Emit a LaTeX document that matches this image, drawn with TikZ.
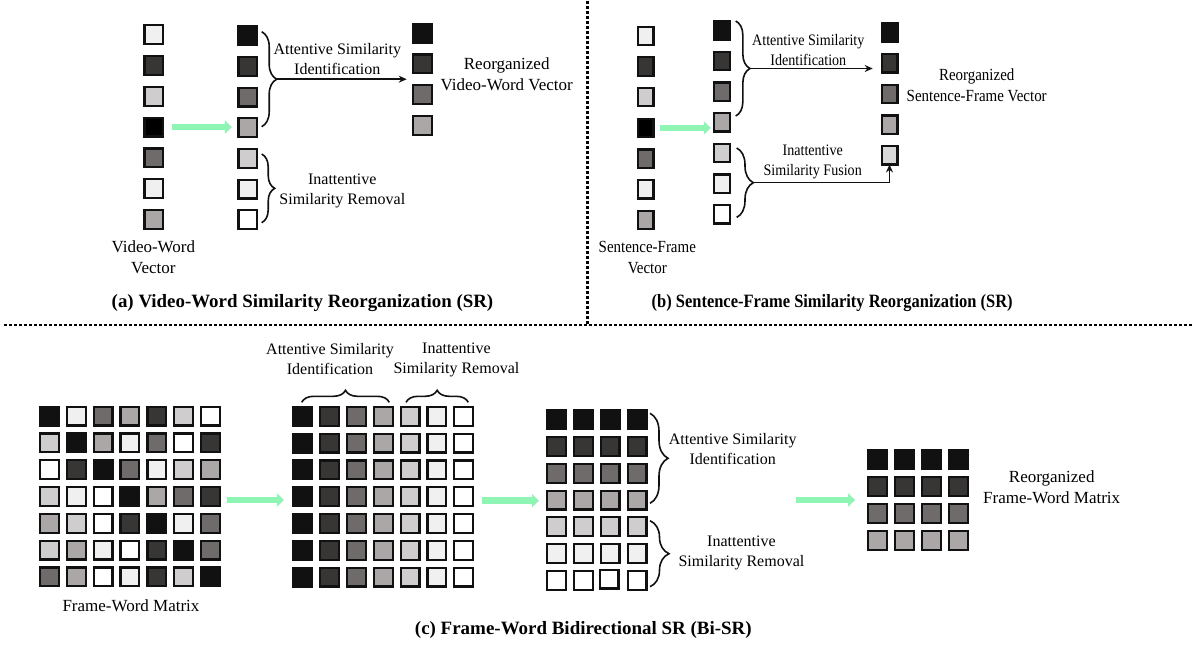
\documentclass[tikz,border=0pt]{standalone}
\usepackage{fontspec}
\usepackage{graphicx}
\setmainfont{Liberation Serif}
\newfontfamily\squeezed[FakeStretch=0.88]{Liberation Serif}
\usetikzlibrary{arrows.meta,decorations.pathreplacing}

% grey levels of the similarity cells
\definecolor{g0}{HTML}{000000}
\definecolor{g1}{HTML}{111111}
\definecolor{g2}{HTML}{383634}
\definecolor{g3}{HTML}{6F6B6B}
\definecolor{g4}{HTML}{ABA7A7}
\definecolor{g5}{HTML}{CFCDCD}
\definecolor{g6}{HTML}{F0F0F0}
\definecolor{g7}{HTML}{FFFFFF}
\definecolor{gf}{HTML}{D8D8D8}
\definecolor{mint}{HTML}{8FF5B4}
\definecolor{ink}{HTML}{111111}

% caption set to a fixed width, natural height
\newcommand{\fitcaption}[2]{\resizebox{#1}{\height}{\bfseries\fontsize{18.8}{22}\selectfont #2}}

\tikzset{
  cell/.style={draw=ink, line width=2.2pt, minimum size=18.8pt, inner sep=0pt, outer sep=0pt},
  cellb/.style={cell, minimum width=15.8pt, minimum height=18.3pt},
  flow/.style={draw=mint, line width=6.5pt, -{Triangle[length=7pt,width=13pt]}},
  link/.style={draw=ink, line width=1.5pt, -{Stealth[length=8pt,width=7pt]}},
  curly/.style={draw=ink, line width=1.6pt, decorate, decoration={brace, amplitude=#1}},
  lbl/.style={align=center, inner sep=0pt, font=\fontsize{16}{20}\selectfont},
  lblb/.style={align=center, inner sep=0pt, font=\squeezed\fontsize{16}{20}\selectfont},
  capt/.style={align=center, inner sep=0pt, font=\fontsize{17}{21}\selectfont},
  captb/.style={align=center, inner sep=0pt, font=\squeezed\fontsize{17}{21}\selectfont},
  ttl/.style={inner sep=0pt},
  sep/.style={draw=black, line width=2.5pt, dash pattern=on 2.5pt off 2.5pt},
}

\begin{document}
\begin{tikzpicture}[x=1pt, y=-1pt]
\useasboundingbox (0,0) rectangle (1194,648);

% panel separators
\draw[sep] (4,325) -- (1194,325);
\draw[sep] (587.7,1) -- (587.7,325);

% ---------------- (a) video-word vector ----------------
\foreach \c [count=\i] in {g6,g2,g5,g0,g3,g6,g4}
  \node[cell, fill=\c] (av\i) at (153.8,{34.7+30.8*(\i-1)}) {};
\foreach \c [count=\i] in {g1,g2,g3,g4,g5,g6,g7}
  \node[cell, fill=\c] (as\i) at (247.8,{35.7+30.67*(\i-1)}) {};
\foreach \c [count=\i] in {g1,g2,g3,g4}
  \node[cell, fill=\c] (ar\i) at (422.3,{33+30.8*(\i-1)}) {};

\draw[flow] ([xshift=9pt]av4.east) -- ([xshift=-6.5pt]as4.west |- av4.east);

\draw[curly=15pt] (261.7,31.7) -- (261.7,126.7);
\coordinate (atip) at (276.7,79.2);
\coordinate (aend) at (406.7,79.2);
\draw[link] (atip) -- (aend);
\draw[curly=13pt] (261.7,154) -- (261.7,222.7);

\node[lbl] (at1) at (337.3,58.8) {Attentive Similarity\\Identification};
\node[lbl] (at2) at (342.3,191) {Inattentive\\Similarity Removal};
\node[capt] (at3) at (506.7,74.3) {Reorganized\\Video-Word Vector};
\node[capt] (at4) at (153.3,257.5) {Video-Word\\Vector};
\node[ttl] (att) at (302.5,303) {\fitcaption{381.5pt}{(a) Video-Word Similarity Reorganization (SR)}};

% ---------------- (b) sentence-frame vector ----------------
\foreach \c [count=\i] in {g6,g2,g5,g0,g3,g6,g4}
  \node[cellb, fill=\c] (bv\i) at (645.5,{35.8+30.7*(\i-1)}) {};
\foreach \c [count=\i] in {g1,g2,g3,g4,g5,g6,g7}
  \node[cellb, fill=\c] (bs\i) at (722,{30.3+30.67*(\i-1)}) {};
\foreach \c [count=\i] in {g1,g2,g3,g4,gf}
  \node[cellb, fill=\c] (br\i) at (889.5,{32.7+30.65*(\i-1)}) {};

\draw[flow] ([xshift=6.4pt]bv4.east) -- ([xshift=-3.3pt]bs4.west |- bv4.east);

\draw[curly=14.3pt] (735.7,21) -- (735.7,116);
\coordinate (btip) at (750,68.5);
\coordinate (bend) at (872.7,68.5);
\draw[link] (btip) -- (bend);
\draw[curly=16.6pt] (736.7,148) -- (736.7,217.4);
\coordinate (btip2) at (753.3,182.7);
\draw[link] (btip2) -| (br5.south);

\node[lblb] (bt1) at (808.3,50.2) {Attentive Similarity\\Identification};
\node[lblb] (bt2) at (812.7,162.2) {Inattentive\\Similarity Fusion};
\node[captb] (bt3) at (976.7,85.3) {Reorganized\\Sentence-Frame Vector};
\node[captb] (bt4) at (647.3,257.5) {Sentence-Frame\\Vector};
\node[ttl] (btt) at (832.2,303) {\fitcaption{361pt}{(b) Sentence-Frame Similarity Reorganization (SR)}};

% ---------------- (c) frame-word matrix ----------------
% unsorted matrix
\foreach \row [count=\i from 0] in {{1,6,3,4,2,5,7},{5,1,4,6,3,7,2},{7,2,1,3,6,5,4},{5,6,7,1,4,3,2},{4,5,7,2,1,6,3},{5,4,6,7,2,1,3},{3,4,7,6,2,5,1}}
  \foreach \v [count=\j from 0] in \row
    \node[cell, fill=g\v] (m1-\i-\j) at ({49.5+26.83*\j},{416+26.83*\i}) {};

% columns sorted by similarity
\foreach \i in {0,...,6}
  \foreach \j/\c in {0/g1,1/g2,2/g3,3/g4,4/g5,5/g6,6/g7}
    \node[cell, fill=\c] (m2-\i-\j) at ({302.8+26.82*\j},{416.3+26.8*\i}) {};

% rows sorted after column reduction
\foreach \i/\c in {0/g1,1/g2,2/g3,3/g4,4/g5,5/g6,6/g7}
  \foreach \j in {0,1,3}
    \node[cell, fill=\c] (m3-\i-\j) at ({556.3+26.9*\j},{419.7+26.77*\i}) {};
\foreach \i/\c in {0/g1,1/g2,2/g3,3/g4,4/g5,5/g6}
  \node[cell, fill=\c] (m3-\i-2) at ({556.3+26.9*2},{419.7+26.77*\i}) {};
\node[cell, fill=g7] (m3-6-2) at (609.1,579) {};

% reorganized result
\foreach \i/\c in {0/g1,1/g2,2/g3,3/g4}
  \foreach \j in {0,...,3}
    \node[cell, fill=\c] (m4-\i-\j) at ({877.5+27.07*\j},{459.7+26.87*\i}) {};

\coordinate (c1s) at (226.7,500);
\coordinate (c1e) at (284,500);
\draw[flow] (c1s) -- (c1e);
\coordinate (c2s) at (481.7,500.7);
\coordinate (c2e) at (539,500.7);
\draw[flow] (c2s) -- (c2e);
\coordinate (c3s) at (796,500);
\draw[flow] (c3s) -- ([xshift=-13pt]m4-0-0.west |- c3s);

\draw[curly=12pt] (301.7,402.3) -- (389.3,402.3);
\draw[curly=12pt] (406,402.3) -- (468.3,402.3);
\draw[curly=18pt] (650,413.3) -- (650,503.3);
\draw[curly=19pt] (650,520.7) -- (650,586.7);

\node[lbl] (ct1) at (330,359.5) {Attentive Similarity\\Identification};
\node[lbl] (ct2) at (456.4,359.5) {Inattentive\\Similarity Removal};
\node[capt] (ct3) at (131,606) {Frame-Word Matrix};
\node[lbl] (ct4) at (732.7,449.5) {Attentive Similarity\\Identification};
\node[lbl] (ct5) at (741.4,552.5) {Inattentive\\Similarity Removal};
\node[capt] (ct6) at (1051.7,486.8) {Reorganized\\Frame-Word Matrix};
\node[ttl] (ctt) at (583.3,630) {\fitcaption{336.7pt}{(c) Frame-Word Bidirectional SR (Bi-SR)}};
\end{tikzpicture}
\end{document}
